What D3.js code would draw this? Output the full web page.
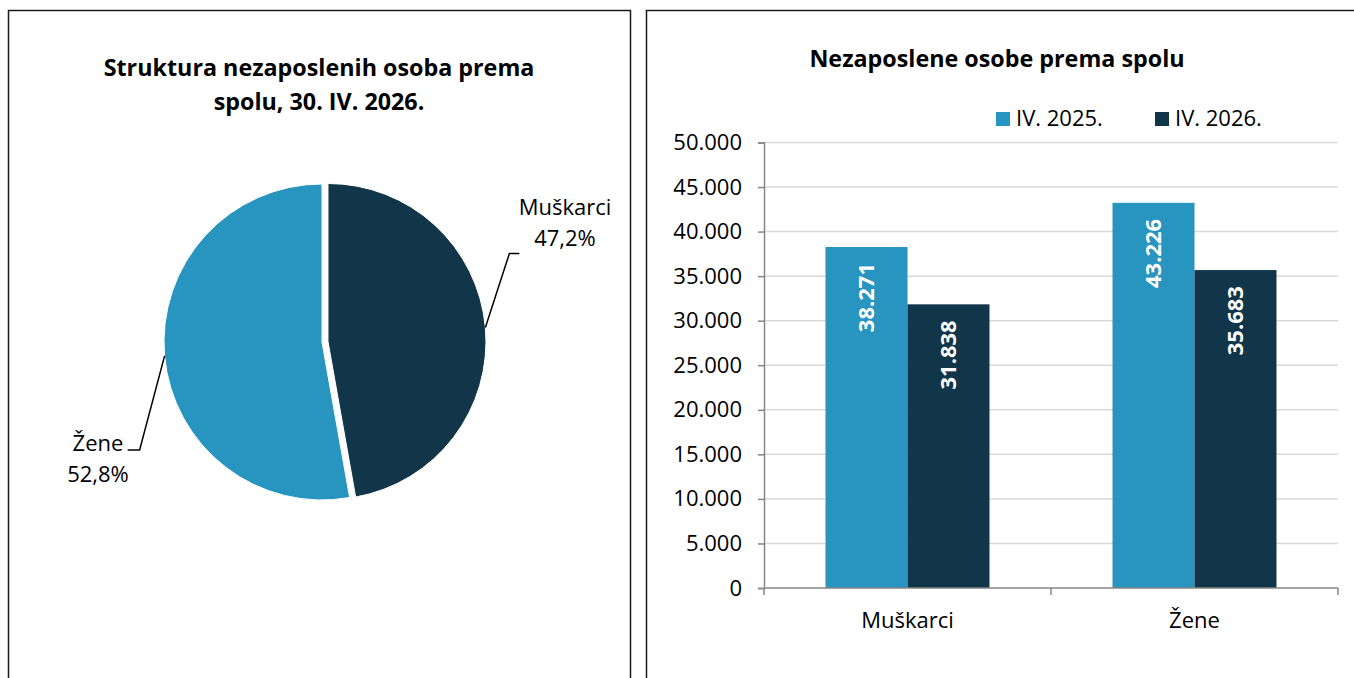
<!DOCTYPE html>
<html>
<head>
<meta charset="utf-8">
<script src="https://cdn.jsdelivr.net/npm/d3@7"></script>
<style>
  body { margin: 0; background: #fff; }
  svg { display: block; font-family: "Open Sans", sans-serif; }
</style>
</head>
<body>
<svg id="chart" width="1354" height="678"></svg>
<script>
// ---- Data ----
const pieCategories = ["Muškarci", "Žene"];
const pieShares = [47.2, 52.8];

const categories = ["Muškarci", "Žene"];
const seriesNames = ["IV. 2025.", "IV. 2026."];
const values2025 = [38271, 43226];
const values2026 = [31838, 35683];
const yTicks = [0, 5000, 10000, 15000, 20000, 25000, 30000, 35000, 40000, 45000, 50000];

const pieTitle = ["Struktura nezaposlenih osoba prema", "spolu, 30. IV. 2026."];
const barTitle = "Nezaposlene osobe prema spolu";

// ---- Styling ----
const colLight = "#2894C0";
const colDark = "#11364A";
const fontSize = 22;
const titleSize = 23.3;

const locale = d3.formatLocale({ decimal: ",", thousands: ".", grouping: [3], currency: ["", ""] });
const fmtInt = locale.format(",d");
const fmtPct = locale.format(".1f");

const svg = d3.select("#chart");
svg.append("rect").attr("width", 1354).attr("height", 678).attr("fill", "#fff");

// Panel borders
svg.append("rect").attr("x", 8.5).attr("y", 10.5).attr("width", 622).attr("height", 700)
  .attr("fill", "none").attr("stroke", "#1a1a1a").attr("stroke-width", 1.5);
svg.append("rect").attr("x", 646.5).attr("y", 10.5).attr("width", 720).attr("height", 700)
  .attr("fill", "none").attr("stroke", "#1a1a1a").attr("stroke-width", 1.5);

// ---- Pie chart ----
const pieG = svg.append("g");
pieG.append("text").attr("x", 319).attr("text-anchor", "middle")
  .attr("font-weight", "bold").attr("font-size", titleSize).attr("fill", "#000")
  .selectAll("tspan").data(pieTitle).join("tspan")
  .attr("x", 319).attr("y", (d, i) => 76 + i * 34).text(d => d);

const cx = 322, cy = 342, r = 158;
const pieData = pieCategories.map((c, i) => ({ name: c, value: pieShares[i] }));
const arcs = d3.pie().sort(null).value(d => d.value)(pieData);
const arc = d3.arc().innerRadius(0).outerRadius(r);
const explode = [6, 0];
const pieColors = [colDark, colLight];

arcs.forEach((a, i) => {
  const mid = (a.startAngle + a.endAngle) / 2;
  const ox = Math.sin(mid) * explode[i], oy = -Math.cos(mid) * explode[i];
  const g = pieG.append("g").attr("transform", `translate(${cx + ox},${cy + oy})`);
  g.append("path").attr("d", arc(a)).attr("fill", pieColors[i])
    .attr("stroke", "#fff").attr("stroke-width", 1);
});

// Leader lines and labels
const leader = [
  { elbow: [24, -74], end: [10, 0], label: [565, 215], anchor: "middle" },
  { elbow: [-25, 94], end: [-12, 0], label: [98, 451], anchor: "middle" }
];
arcs.forEach((a, i) => {
  const mid = (a.startAngle + a.endAngle) / 2;
  const ox = Math.sin(mid) * explode[i], oy = -Math.cos(mid) * explode[i];
  const ax = cx + ox + Math.sin(mid) * r, ay = cy + oy - Math.cos(mid) * r;
  const L = leader[i];
  const ex = ax + L.elbow[0], ey = ay + L.elbow[1];
  pieG.append("path")
    .attr("d", `M${ax},${ay}L${ex},${ey}L${ex + L.end[0]},${ey + L.end[1]}`)
    .attr("fill", "none").attr("stroke", "#000").attr("stroke-width", 1.5);
  const t = pieG.append("text").attr("text-anchor", L.anchor).attr("font-size", fontSize).attr("fill", "#000");
  t.append("tspan").attr("x", L.label[0]).attr("y", L.label[1]).text(a.data.name);
  t.append("tspan").attr("x", L.label[0]).attr("y", L.label[1] + 31).text(fmtPct(a.data.value) + "%");
});

// ---- Bar chart ----
const barG = svg.append("g");
barG.append("text").attr("x", 997).attr("y", 67).attr("text-anchor", "middle")
  .attr("font-weight", "bold").attr("font-size", titleSize).attr("fill", "#000").text(barTitle);

const x0 = d3.scaleBand().domain(categories).range([764, 1338]).paddingInner(0.4286).paddingOuter(0.2143);
const x1 = d3.scaleBand().domain(seriesNames).range([0, x0.bandwidth()]);
const y = d3.scaleLinear().domain([0, 50000]).range([588, 142.5]);
const seriesColors = [colLight, colDark];
const seriesValues = [values2025, values2026];

// gridlines
barG.append("g").selectAll("line").data(yTicks.filter(d => d > 0)).join("line")
  .attr("x1", 764).attr("x2", 1338).attr("y1", d => y(d)).attr("y2", d => y(d))
  .attr("stroke", "#d9d9d9").attr("stroke-width", 1.5);

// bars
categories.forEach((c, ci) => {
  seriesNames.forEach((s, si) => {
    const v = seriesValues[si][ci];
    const bx = x0(c) + x1(s);
    barG.append("rect").attr("x", bx).attr("y", y(v))
      .attr("width", x1.bandwidth()).attr("height", y(0) - y(v)).attr("fill", seriesColors[si]);
    const tx = bx + x1.bandwidth() / 2, ty = y(v) + 16;
    barG.append("text").attr("transform", `translate(${tx},${ty}) rotate(-90)`)
      .attr("text-anchor", "end").attr("dy", "0.36em")
      .attr("font-weight", "bold").attr("font-size", fontSize).attr("fill", "#fff").text(fmtInt(v));
  });
});

// y axis
const yAxis = d3.axisLeft(y).tickValues(yTicks).tickFormat(fmtInt).tickSize(6).tickPadding(16);
const yAx = barG.append("g").attr("transform", "translate(764,0)").call(yAxis);
yAx.select(".domain").attr("stroke", "#868686").attr("stroke-width", 1.5);
yAx.selectAll(".tick line").attr("stroke", "#868686").attr("stroke-width", 1.5);
yAx.selectAll(".tick text").attr("font-size", fontSize).attr("font-family", "Open Sans").attr("fill", "#000");

// x axis
const xAx = barG.append("g").attr("transform", `translate(0,${y(0)})`);
xAx.append("line").attr("x1", 764).attr("x2", 1338).attr("stroke", "#868686").attr("stroke-width", 1.5);
const xTickPos = [764, ...categories.map(c => x0(c) + x0.bandwidth() + x0.step() * x0.paddingInner() / 2)];
xTickPos[xTickPos.length - 1] = 1338;
xAx.selectAll("line.t").data(xTickPos).join("line").attr("class", "t")
  .attr("x1", d => d).attr("x2", d => d).attr("y1", 0).attr("y2", 7)
  .attr("stroke", "#868686").attr("stroke-width", 1.5);
xAx.selectAll("text").data(categories).join("text")
  .attr("x", d => x0(d) + x0.bandwidth() / 2).attr("y", 40)
  .attr("text-anchor", "middle").attr("font-size", fontSize).attr("fill", "#000").text(d => d);

// legend
const legX = [996, 1155];
seriesNames.forEach((s, i) => {
  barG.append("rect").attr("x", legX[i]).attr("y", 112).attr("width", 14).attr("height", 14).attr("fill", seriesColors[i]);
  barG.append("text").attr("x", legX[i] + 20).attr("y", 126).attr("font-size", fontSize).attr("fill", "#000").text(s);
});
</script>
</body>
</html>
